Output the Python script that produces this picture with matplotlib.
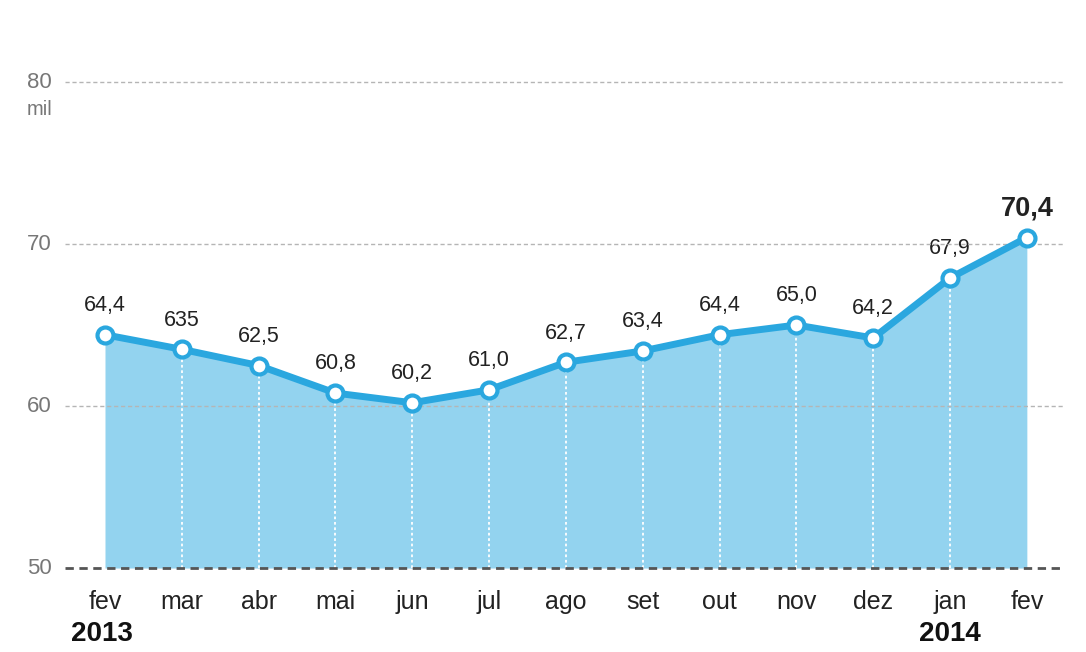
import matplotlib.pyplot as plt

months = ["fev", "mar", "abr", "mai", "jun", "jul", "ago", "set", "out", "nov", "dez", "jan", "fev"]
values = [64.4, 63.5, 62.5, 60.8, 60.2, 61.0, 62.7, 63.4, 64.4, 65.0, 64.2, 67.9, 70.4]
point_labels = ["64,4", "635", "62,5", "60,8", "60,2", "61,0", "62,7", "63,4", "64,4", "65,0", "64,2", "67,9", "70,4"]
y_ticks = [50, 60, 70, 80]
years = ["2013", "2014"]
year_pos = [-0.04, 11.0]

LINE = "#2aa7df"
FILL = "#93d3ef"
FONT = "Liberation Sans"

fig = plt.figure(figsize=(10.86, 6.52), dpi=100)
ax = fig.add_axes([0.0599, 0.1288, 0.9401, 0.7792])
x = list(range(len(values)))

ax.fill_between(x, values, 50, color=FILL, lw=0, zorder=2)
for xi, v in zip(x[1:-1], values[1:-1]):
    ax.plot([xi, xi], [50, v], color="white", lw=1.3, ls=(0, (1.5, 1.5)), zorder=3)

# gridlines drawn over the fill
for yt in y_ticks:
    base = yt == 50
    ax.plot([-0.52, 12.5], [yt, yt], color="#555555" if base else "#b5b5b5",
            lw=2.0 if base else 1.0, ls=(0, (3, 2)), zorder=3.5, clip_on=False)

ax.plot(x, values, color=LINE, lw=5, zorder=4, solid_capstyle="round")
ax.plot(x, values, "o", ms=11.5, mfc="white", mec=LINE, mew=3, zorder=5)

for i, (v, lab) in enumerate(zip(values, point_labels)):
    last = i == len(values) - 1
    ax.annotate(lab, (i, v), xytext=(0, 21), textcoords="offset points",
                ha="center", va="center", fontsize=19.5 if last else 15.5,
                fontweight="bold" if last else "normal", color="#222222", family=FONT)

ax.set_xlim(-0.52, 12.77)
ax.set_ylim(50, 81.36)
ax.axis("off")

for yt in y_ticks:
    ax.text(-0.69, yt, str(yt), ha="right", va="center", fontsize=16, color="#777777", family=FONT)
ax.text(-0.69, 78.3, "mil", ha="right", va="center", fontsize=14.5, color="#777777", family=FONT)

for i, m in enumerate(months):
    ax.text(i, 47.9, m, ha="center", va="center", fontsize=18, color="#222222", family=FONT)
for yr, xp in zip(years, year_pos):
    ax.text(xp, 45.93, yr, ha="center", va="center", fontsize=20, fontweight="bold",
            color="#111111", family=FONT)

fig.savefig("out.png", dpi=100, facecolor="white")
